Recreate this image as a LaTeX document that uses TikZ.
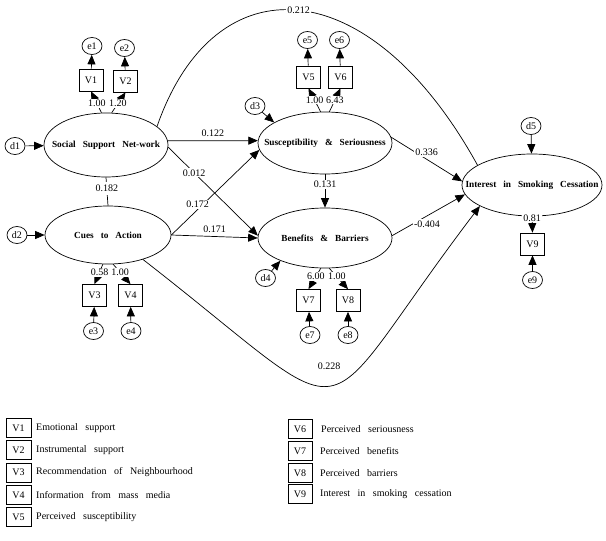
\documentclass[tikz,border=0pt]{standalone}
\usepackage{fontspec}
\setmainfont[WordSpace=3]{Liberation Serif}
\usetikzlibrary{shapes.geometric,arrows.meta}
\begin{document}
\begin{tikzpicture}[x=1pt,y=-1pt,
 every node/.style={font=\fontsize{10}{12}\selectfont},
 arr/.style={-{Triangle[length=9.5pt,width=8pt]}, line width=0.7pt},
 ln/.style={line width=0.7pt},
 lat/.style={ellipse, draw, line width=0.7pt, inner sep=0pt},
 obs/.style={rectangle, draw, line width=0.7pt, minimum width=24pt, minimum height=22pt, inner sep=0pt},
 err/.style={ellipse, draw, line width=0.7pt, minimum width=20pt, minimum height=17pt, inner sep=0pt},
 lbl/.style={fill=white, inner sep=1pt},
 lattxt/.style={font=\fontsize{9.3}{11}\selectfont\bfseries},
 leg/.style={rectangle, draw, line width=0.7pt, minimum height=19pt, inner sep=0pt},
 legtxt/.style={anchor=west, inner sep=0pt},
]
\useasboundingbox (0,0) rectangle (606,541);
\fill[white] (0,0) rectangle (606,541);

% latent variables
\node[lat, minimum width=124pt, minimum height=64pt, label={[lattxt]center:Social Support Net-work}] (ssn) at (106,145) {};
\node[lat, minimum width=126pt, minimum height=58pt, label={[lattxt]center:Cues to Action}] (cue) at (108,235) {};
\node[lat, minimum width=134pt, minimum height=62pt, label={[lattxt]center:Susceptibility \& Seriousness}] (sus) at (325,143) {};
\node[lat, minimum width=134pt, minimum height=60pt, label={[lattxt]center:Benefits \& Barriers}] (ben) at (325,238) {};
\node[lat, minimum width=140pt, minimum height=62pt, label={[lattxt]center:Interest in Smoking Cessation}] (int) at (532,185) {};

% observed variables
\node[obs] (V1) at (91,80) {V1};
\node[obs] (V2) at (125.5,81) {V2};
\node[obs] (V3) at (94.5,295.5) {V3};
\node[obs] (V4) at (130.5,295.5) {V4};
\node[obs] (V5) at (308.5,77) {V5};
\node[obs] (V6) at (340.5,77) {V6};
\node[obs] (V7) at (308.5,300.5) {V7};
\node[obs] (V8) at (348,300.5) {V8};
\node[obs] (V9) at (532.5,244) {V9};

% error / disturbance terms
\node[err] (e1) at (92,46) {e1};
\node[err] (e2) at (124.5,48) {e2};
\node[err] (e3) at (93.5,331) {e3};
\node[err] (e4) at (131,331) {e4};
\node[err] (e5) at (307.5,40) {e5};
\node[err] (e6) at (339.5,40) {e6};
\node[err] (e7) at (310,335) {e7};
\node[err] (e8) at (348,335) {e8};
\node[err] (e9) at (532.5,280) {e9};
\node[err] (d1) at (15,146) {d1};
\node[err] (d2) at (17,235) {d2};
\node[err] (d3) at (255,106) {d3};
\node[err] (d4) at (265.5,278) {d4};
\node[err] (d5) at (531,126) {d5};

% disturbance arrows
\draw[arr] (d1) -- (ssn);
\draw[arr] (d2) -- (cue);
\draw[arr] (d3) -- (sus.158);
\draw[arr] (d4) -- (ben.207);
\draw[arr] (d5) -- (int);

% error arrows
\draw[arr] (V1) -- (e1);
\draw[arr] (V2) -- (e2);
\draw[arr] (V5) -- (e5);
\draw[arr] (V6) -- (e6);
\draw[arr] (e3) -- (V3);
\draw[arr] (e4) -- (V4);
\draw[arr] (e7) -- (V7);
\draw[arr] (e8) -- (V8);
\draw[arr] (e9) -- (V9);

% loadings
\draw[arr] (ssn.98) -- node[lbl,pos=.45]{1.00} (V1.south);
\draw[arr] (ssn.80) -- node[lbl,pos=.45]{1.20} (V2.south);
\draw[arr] (cue.-100) -- node[lbl,pos=.4]{0.58} (V3.north);
\draw[arr] (cue.-80) -- node[lbl,pos=.4]{1.00} (V4.north);
\draw[arr] (sus.98) -- node[lbl,pos=.5]{1.00} (V5.south);
\draw[arr] (sus.82) -- node[lbl,pos=.5]{6.43} (V6.south);
\draw[arr] (ben.-98) -- node[lbl,pos=.4]{6.00} (V7.north);
\draw[arr] (ben.-82) -- node[lbl,pos=.4]{1.00} (V8.north);
\draw[arr] (int.south) -- node[lbl,pos=.1]{0.81} (V9.north);

% structural paths
\draw[ln] (ssn.south) -- node[lbl,pos=.4,inner ysep=3pt]{0.182} (cue.north);
\draw[arr] (ssn.4) -- node[above]{0.122} (sus.178);
\draw[arr] (ssn.-2) -- node[lbl,pos=.29]{0.012} (ben.178);
\draw[arr] (cue.east) -- node[lbl,pos=.3,yshift=5pt]{0.172} (sus.186);
\draw[arr] (cue.east) -- node[above]{0.171} (ben.west);
\draw[arr] (sus.south) -- node[lbl,pos=.3]{0.131} (ben.north);
\draw[arr] (sus.5) -- node[lbl,yshift=7pt]{0.336} (int.177);
\draw[arr] (ben.2) -- node[lbl,pos=.48,yshift=-8pt]{-0.404} (int.188);
\draw[ln] (ssn.20) .. controls (215,-40) and (370,-30) .. (int.160) node[lbl,pos=.5]{0.212};
\draw[arr] (cue.-35) .. controls (370,436) and (305,436) .. (int.202);
\node (l228) at (329,366) {0.228};

% legend
\node[leg, minimum width=25pt] (L1) at (18.5,428) {V1};
\node[legtxt] (T1) at (36,428) {Emotional support};
\node[leg, minimum width=25pt] (L2) at (18.5,450) {V2};
\node[legtxt] (T2) at (36,450) {Instrumental support};
\node[leg, minimum width=25pt] (L3) at (18.5,472.5) {V3};
\node[legtxt] (T3) at (36,472.5) {Recommendation of Neighbourhood};
\node[leg, minimum width=25pt] (L4) at (18.5,495) {V4};
\node[legtxt] (T4) at (36,495) {Information from mass media};
\node[leg, minimum width=25pt] (L5) at (18.5,517) {V5};
\node[legtxt] (T5) at (36,517) {Perceived susceptibility};

\node[leg, minimum width=24pt] (L6) at (300,429) {V6};
\node[legtxt] (T6) at (321,429) {Perceived seriousness};
\node[leg, minimum width=24pt] (L7) at (300,451) {V7};
\node[legtxt] (T7) at (320,451) {Perceived benefits};
\node[leg, minimum width=24pt] (L8) at (300,473) {V8};
\node[legtxt] (T8) at (320,473) {Perceived barriers};
\node[leg, minimum width=24pt] (L9) at (300,494) {V9};
\node[legtxt] (T9) at (320,494) {Interest in smoking cessation};
\end{tikzpicture}
\end{document}
